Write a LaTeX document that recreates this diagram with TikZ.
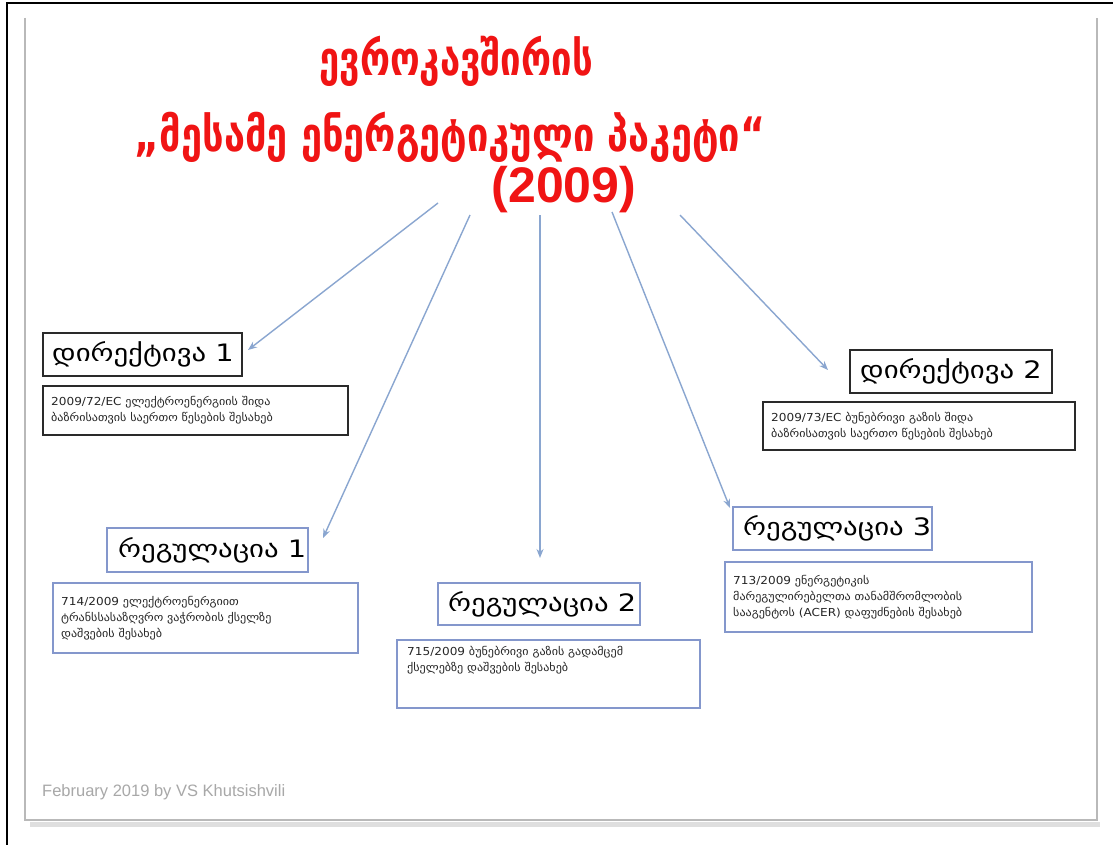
\documentclass[tikz,border=0pt]{standalone}
\usepackage{graphicx}
\usepackage{fontspec}
\setmainfont{DejaVu Sans}
\newfontfamily\geo{DejaVu Sans}
\newfontfamily\geobold{DejaVu Sans Bold}
\newfontfamily\geohdr[FakeStretch=1.2]{DejaVu Sans}
\newfontfamily\geobody[FakeStretch=1.1]{DejaVu Sans}
\newfontfamily\yearfont{Liberation Sans}
\newfontfamily\footfont{Liberation Sans}
\usetikzlibrary{arrows.meta}
\definecolor{titlered}{HTML}{F01414}
\definecolor{arrowblue}{HTML}{8AA6D0}
\definecolor{regblue}{HTML}{8497CC}
\definecolor{dirgray}{HTML}{2A2A2A}
\definecolor{footgray}{HTML}{A8A8A8}
\begin{document}
\begin{tikzpicture}[x=1pt,y=-1pt,
  box/.style={rectangle, anchor=north west, inner sep=0pt, outer sep=0pt},
  dirbox/.style={box, draw=dirgray, line width=1.4pt},
  regbox/.style={box, draw=regblue, line width=1.4pt},
  hdrtext/.style={anchor=west, inner sep=0pt, font=\geohdr\fontsize{24}{28}\selectfont},
  bodytext/.style={anchor=west, inner sep=0pt, align=left, text=black!85, font=\geobody\fontsize{11}{16}\selectfont},
  link/.style={draw=arrowblue, line width=1.4pt, -{Stealth[length=9pt,width=7pt]}},
  titletext/.style={anchor=base, inner sep=0pt, text=titlered, font=\geobold\fontsize{38}{42}\selectfont}
]
\useasboundingbox (0,0) rectangle (1113,845);
\fill[white] (0,0) rectangle (1113,845);
% outer frame
\draw[black, line width=1.5pt] (7,845) -- (7,3) -- (1113,3);
% slide with shadow
\draw[gray!25, line width=5pt] (30,824) -- (1100,824);
\fill[white] (25,12) rectangle (1097,820);
\draw[gray!55, line width=2.5pt] (25,18) -- (25,820) -- (1097,820) -- (1097,18);
% title
\node[titletext] (t1) at (456,76) {\scalebox{0.96}[1.25]{ევროკავშირის}};
\node[titletext] (t2) at (450,152) {\scalebox{1}[1.25]{„მესამე ენერგეტიკული პაკეტი“}};
\node[anchor=base, inner sep=0pt, text=titlered, font=\yearfont\bfseries\fontsize{50}{56}\selectfont] (t3) at (564,202) {(2009)};
% boxes
\node[dirbox, minimum width=199pt, minimum height=43pt] (d1h) at (43,333) {};
\node[hdrtext] (d1ht) at ([xshift=9pt]d1h.west) {დირექტივა 1};
\node[dirbox, minimum width=305pt, minimum height=49pt] (d1b) at (43,386) {};
\node[bodytext] (d1bt) at ([xshift=8pt]d1b.west) {2009/72/EC ელექტროენერგიის შიდა\\ბაზრისათვის საერთო წესების შესახებ};

\node[dirbox, minimum width=202pt, minimum height=43pt] (d2h) at (850,350) {};
\node[hdrtext] (d2ht) at ([xshift=10pt]d2h.west) {დირექტივა 2};
\node[dirbox, minimum width=312pt, minimum height=48pt] (d2b) at (763,402) {};
\node[bodytext] (d2bt) at ([xshift=8pt]d2b.west) {2009/73/EC ბუნებრივი გაზის შიდა\\ბაზრისათვის საერთო წესების შესახებ};

\node[regbox, minimum width=201pt, minimum height=44pt] (r1h) at (107,528) {};
\node[hdrtext] (r1ht) at ([xshift=11pt]r1h.west) {რეგულაცია 1};
\node[regbox, minimum width=305pt, minimum height=70pt] (r1b) at (53,583) {};
\node[bodytext] (r1bt) at ([xshift=8pt]r1b.west) {714/2009 ელექტროენერგიით\\ტრანსსასაზღვრო ვაჭრობის ქსელზე\\დაშვების შესახებ};

\node[regbox, minimum width=202pt, minimum height=42pt] (r2h) at (438,583) {};
\node[hdrtext] (r2ht) at ([xshift=10pt]r2h.west) {რეგულაცია 2};
\node[regbox, minimum width=303pt, minimum height=68pt] (r2b) at (397,640) {};
\node[bodytext, anchor=north west] (r2bt) at ([xshift=10pt,yshift=-6pt]r2b.north west) {715/2009 ბუნებრივი გაზის გადამცემ\\ქსელებზე დაშვების შესახებ};

\node[regbox, minimum width=199pt, minimum height=43pt] (r3h) at (733,507) {};
\node[hdrtext] (r3ht) at ([xshift=10pt]r3h.west) {რეგულაცია 3};
\node[regbox, minimum width=307pt, minimum height=70pt] (r3b) at (725,562) {};
\node[bodytext] (r3bt) at ([xshift=8pt]r3b.west) {713/2009 ენერგეტიკის\\მარეგულირებელთა თანამშრომლობის\\სააგენტოს (ACER) დაფუძნების შესახებ};
% arrow coordinates
\coordinate (s1) at (438,203);
\coordinate (e1) at (248,350);
\coordinate (s2) at (470,215);
\coordinate (e2) at (323,538);
\coordinate (s3) at (540,215);
\coordinate (e3) at (540,558);
\coordinate (s4) at (612,212);
\coordinate (e4) at (730,508);
\coordinate (s5) at (680,215);
\coordinate (e5) at (828,370);
\draw[link] (s1) -- (e1);
\draw[link] (s2) -- (e2);
\draw[link] (s3) -- (e3);
\draw[link] (s4) -- (e4);
\draw[link] (s5) -- (e5);
% footer
\node[anchor=base west, inner sep=0pt, text=footgray, font=\footfont\fontsize{16.5}{18}\selectfont] (foot) at (42,796) {February 2019 by VS Khutsishvili};
\end{tikzpicture}
\end{document}
